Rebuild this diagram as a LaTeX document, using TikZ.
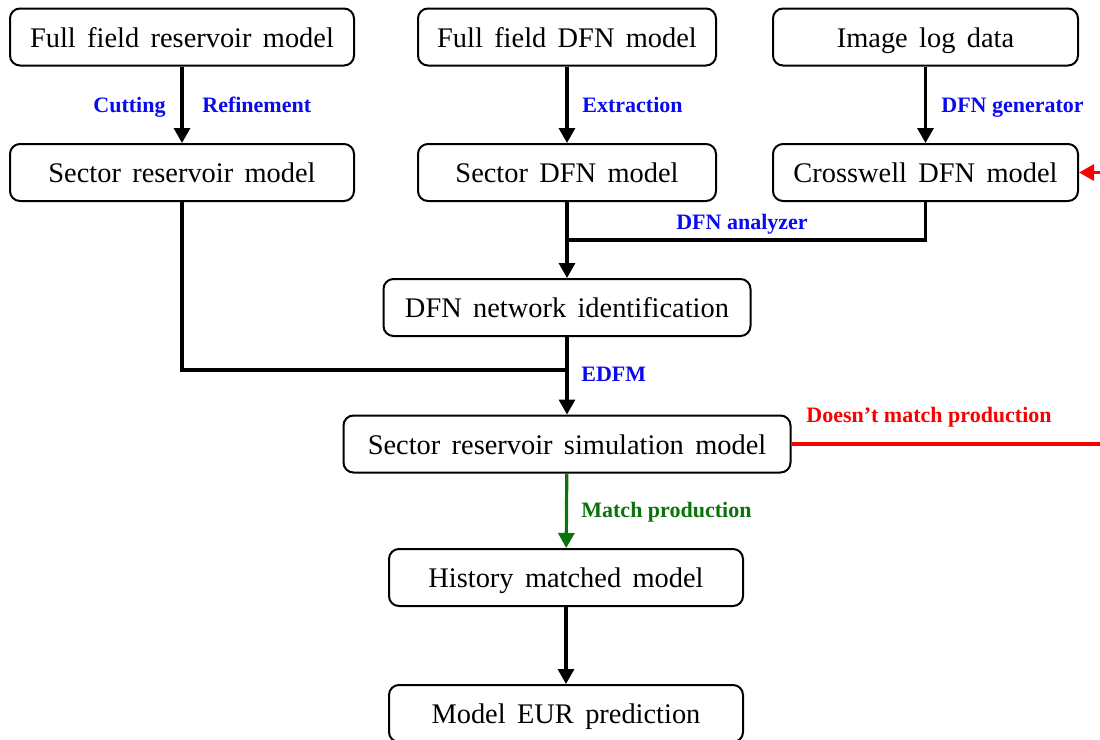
\documentclass[tikz,border=0pt]{standalone}
\usepackage{fontspec}
\setmainfont{Liberation Serif}[WordSpace=1.6]
\newfontfamily\labelfont{Liberation Serif}
\usetikzlibrary{arrows.meta}
\definecolor{lblblue}{RGB}{10,10,240}
\definecolor{lblred}{RGB}{250,0,0}
\definecolor{lblgreen}{RGB}{10,115,10}
\tikzset{
  box/.style={draw, line width=1pt, rounded corners=5pt, minimum height=28.5pt,
    inner sep=0pt, text height=10pt, text depth=0pt,
    font=\fontsize{14.2}{16}\selectfont, fill=white},
  flow/.style={line width=1.6pt, -{Triangle[length=7.5pt,width=8pt]}},
  link/.style={line width=1.6pt},
  lbl/.style={font=\labelfont\fontsize{11}{13}\selectfont\bfseries, inner sep=0pt},
}
\begin{document}
\begin{tikzpicture}[x=0.5pt,y=-0.5pt]
\clip (0,0) rectangle (1100,740);
\fill[white] (0,0) rectangle (1100,740);

% workflow boxes
\node[box, minimum width=172pt]   (ffres)  at (182,37)     {Full field reservoir model};
\node[box, minimum width=149pt]   (ffdfn)  at (567,37)     {Full field DFN model};
\node[box, minimum width=152.5pt] (imglog) at (925.5,37)   {Image log data};
\node[box, minimum width=172pt]   (secres) at (182,172.5)  {Sector reservoir model};
\node[box, minimum width=149pt]   (secdfn) at (567,172.5)  {Sector DFN model};
\node[box, minimum width=152.5pt] (cross)  at (925.5,172.5){Crosswell DFN model};
\node[box, minimum width=183.5pt] (netid)  at (567,307.5)  {DFN network identification};
\node[box, minimum width=223.5pt] (sim)    at (567,444)    {Sector reservoir simulation model};
\node[box, minimum width=177pt]   (hist)   at (566,577.5)  {History matched model};
\node[box, minimum width=177pt]   (eur)    at (566,713.5)  {Model EUR prediction};

% junction points
\coordinate (jdfn) at (567,240);
\coordinate (jres) at (567,370);
\coordinate (loop) at (1120,300);

% connectors
\draw[flow] (ffres) -- (secres);
\draw[flow] (ffdfn) -- (secdfn);
\draw[flow] (imglog) -- (cross);
\draw[link] (cross.south) |- (jdfn);
\draw[flow] (secdfn) -- (netid);
\draw[link] (secres.south) |- (jres);
\draw[flow] (netid) -- (sim);
\draw[flow, lblgreen] (sim) -- (hist);
\draw[flow] (hist) -- (eur);
\draw[flow, lblred] (sim.east) -| (loop) |- (cross.east);

% connector labels
\node[lbl, lblblue, anchor=base east] at (166,112) {Cutting};
\node[lbl, lblblue, anchor=base west] at (202,112) {Refinement};
\node[lbl, lblblue, anchor=base west] at (582,112) {Extraction};
\node[lbl, lblblue, anchor=base west] at (941,112) {DFN generator};
\node[lbl, lblblue, anchor=base] at (742,229) {DFN analyzer};
\node[lbl, lblblue, anchor=base west] at (581,381) {EDFM};
\node[lbl, lblred, anchor=base west] at (806,422) {Doesn’t match production};
\node[lbl, lblgreen, anchor=base west] at (581,517) {Match production};
\end{tikzpicture}
\end{document}
